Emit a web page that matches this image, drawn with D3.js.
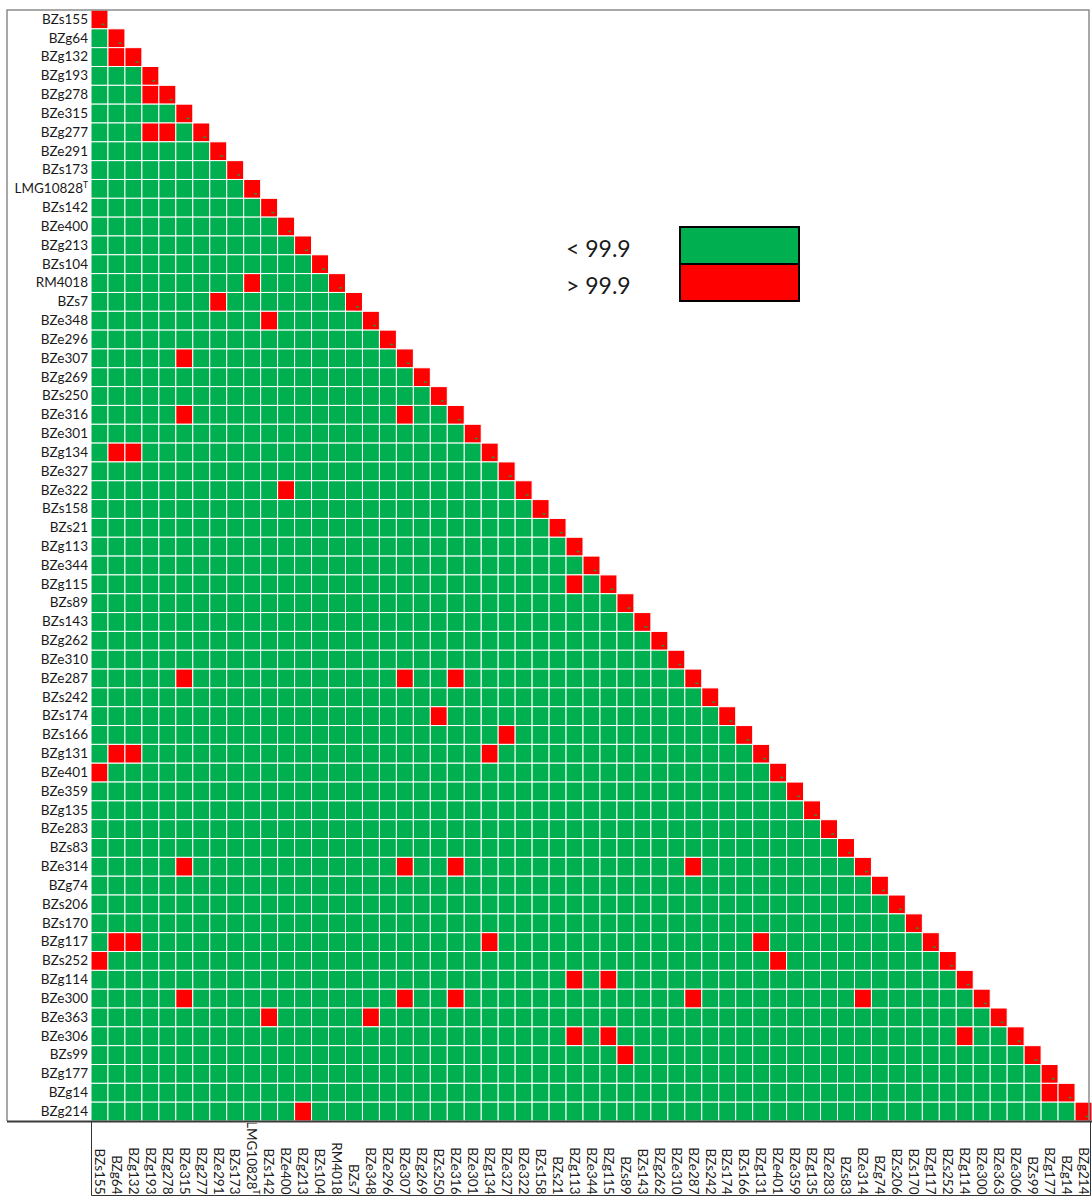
<!DOCTYPE html>
<html>
<head>
<meta charset="utf-8">
<script src="https://cdn.jsdelivr.net/npm/d3@7"></script>
<style>
  body { margin: 0; background: #fff; }
  svg { display: block; font-family: Lato, "Open Sans", sans-serif; }
</style>
</head>
<body>
<div id="chart"></div>
<script>
// strains in row / column order
const strains = [
  "BZs155", "BZg64", "BZg132", "BZg193", "BZg278", "BZe315", "BZg277", "BZe291", "BZs173", "LMG10828T",
  "BZs142", "BZe400", "BZg213", "BZs104", "RM4018", "BZs7", "BZe348", "BZe296", "BZe307", "BZg269",
  "BZs250", "BZe316", "BZe301", "BZg134", "BZe327", "BZe322", "BZs158", "BZs21", "BZg113", "BZe344",
  "BZg115", "BZs89", "BZs143", "BZg262", "BZe310", "BZe287", "BZs242", "BZs174", "BZs166", "BZg131",
  "BZe401", "BZe359", "BZg135", "BZe283", "BZs83", "BZe314", "BZg74", "BZs206", "BZs170", "BZg117",
  "BZs252", "BZg114", "BZe300", "BZe363", "BZe306", "BZs99", "BZg177", "BZg14", "BZg214"
];

// pairs above the 99.9 threshold (row strain, column strain), besides the diagonal
const highPairs = [
  ["BZg132", "BZg64"],
  ["BZg278", "BZg193"],
  ["BZg277", "BZg193"], ["BZg277", "BZg278"],
  ["RM4018", "LMG10828T"],
  ["BZs7", "BZe291"],
  ["BZe348", "BZs142"],
  ["BZe307", "BZe315"],
  ["BZe316", "BZe315"], ["BZe316", "BZe307"],
  ["BZg134", "BZg64"], ["BZg134", "BZg132"],
  ["BZe322", "BZe400"],
  ["BZg115", "BZg113"],
  ["BZe287", "BZe315"], ["BZe287", "BZe307"], ["BZe287", "BZe316"],
  ["BZs174", "BZs250"],
  ["BZs166", "BZe327"],
  ["BZg131", "BZg64"], ["BZg131", "BZg132"], ["BZg131", "BZg134"],
  ["BZe401", "BZs155"],
  ["BZe314", "BZe315"], ["BZe314", "BZe307"], ["BZe314", "BZe316"], ["BZe314", "BZe287"],
  ["BZg117", "BZg64"], ["BZg117", "BZg132"], ["BZg117", "BZg134"], ["BZg117", "BZg131"],
  ["BZs252", "BZs155"], ["BZs252", "BZe401"],
  ["BZg114", "BZg113"], ["BZg114", "BZg115"],
  ["BZe300", "BZe315"], ["BZe300", "BZe307"], ["BZe300", "BZe316"], ["BZe300", "BZe287"], ["BZe300", "BZe314"],
  ["BZe363", "BZs142"], ["BZe363", "BZe348"],
  ["BZe306", "BZg113"], ["BZe306", "BZg115"], ["BZe306", "BZg114"],
  ["BZs99", "BZs89"],
  ["BZg14", "BZg177"],
  ["BZg214", "BZg213"]
];

const legendLabels = ["< 99.9", "> 99.9"];
const legendColors = ["#00b050", "#ff0000"];

const width = 1092, height = 1196;

const svg = d3.select("#chart")
  .append("svg")
  .attr("width", width)
  .attr("height", height);

const x = d3.scaleBand().domain(strains).range([91, 1092]);
const y = d3.scaleBand().domain(strains).range([10, 1121]);

const color = d3.scaleOrdinal().domain(legendLabels).range(legendColors);

// lower triangle cells
const highSet = new Set(highPairs.map(p => p[0] + "|" + p[1]));
const cells = [];
strains.forEach((r, i) => {
  strains.slice(0, i + 1).forEach(c => {
    const high = r === c || highSet.has(r + "|" + c);
    cells.push({row: r, col: c, level: high ? "> 99.9" : "< 99.9", diag: r === c});
  });
});

svg.append("g")
  .selectAll("rect")
  .data(cells)
  .enter()
  .append("rect")
  .attr("x", d => x(d.col))
  .attr("y", d => y(d.row))
  .attr("width", x.bandwidth())
  .attr("height", y.bandwidth())
  .attr("fill", d => color(d.level))
  .attr("stroke", "#ffffff")
  .attr("stroke-width", 1);

// little green ticks left in diagonal cells
svg.append("g")
  .selectAll("rect")
  .data(cells.filter(d => d.diag))
  .enter()
  .append("rect")
  .attr("x", d => x(d.col) + x.bandwidth() * 0.62)
  .attr("y", d => y(d.row) + y.bandwidth() * 0.72)
  .attr("width", 3)
  .attr("height", 1.5)
  .attr("fill", "#3a8a3a");

// frame
svg.append("path")
  .attr("d", "M7,1121 V10 H1089 V1121")
  .attr("fill", "none")
  .attr("stroke", "#8c8c8c")
  .attr("stroke-width", 1.5);
svg.append("line")
  .attr("x1", 7).attr("x2", 1092)
  .attr("y1", 1121.5).attr("y2", 1121.5)
  .attr("stroke", "#3a3a3a")
  .attr("stroke-width", 2);
svg.append("path")
  .attr("d", "M91.5,1122 V1195.5 H1090.5 V1122")
  .attr("fill", "none")
  .attr("stroke", "#333")
  .attr("stroke-width", 1);

// label helper for the superscript T
function labelText(sel) {
  sel.each(function(d) {
    const t = d3.select(this).text("");
    if (d === "LMG10828T") {
      t.append("tspan").text("LMG10828");
      t.append("tspan").attr("font-size", "8.5px").attr("dy", "-0.6em").text("T");
    } else {
      t.text(d);
    }
  });
}

// row labels
const yAxis = svg.append("g")
  .attr("transform", "translate(91,0)")
  .call(d3.axisLeft(y).tickSize(0).tickPadding(3));
yAxis.select(".domain").remove();
yAxis.selectAll("text")
  .attr("font-family", "Lato, sans-serif")
  .attr("font-size", 13.5)
  .attr("fill", "#1a1a1a")
  .call(labelText);

// column labels
svg.append("clipPath")
  .attr("id", "xclip")
  .append("rect")
  .attr("x", 92).attr("y", 1123)
  .attr("width", 1000).attr("height", 71.5);

svg.append("g")
  .attr("clip-path", "url(#xclip)")
  .selectAll("text")
  .data(strains)
  .enter()
  .append("text")
  .attr("transform", d => `translate(${x(d) + x.bandwidth() / 2},1194.5) rotate(90)`)
  .attr("text-anchor", "end")
  .attr("dy", "0.35em")
  .attr("font-family", "Lato, sans-serif")
  .attr("font-size", 13.5)
  .attr("fill", "#1a1a1a")
  .call(labelText);

// legend
const ly = d3.scaleBand().domain(legendLabels).range([227, 301]);

svg.append("g")
  .selectAll("rect")
  .data(legendLabels)
  .enter()
  .append("rect")
  .attr("x", 680)
  .attr("y", d => ly(d))
  .attr("width", 119)
  .attr("height", ly.bandwidth())
  .attr("fill", d => color(d))
  .attr("stroke", "#000")
  .attr("stroke-width", 2);

svg.append("g")
  .selectAll("text")
  .data(legendLabels)
  .enter()
  .append("text")
  .attr("x", 566)
  .attr("y", d => ly(d) + ly.bandwidth() / 2 + 11)
  .attr("font-family", "Lato, sans-serif")
  .attr("font-size", 23)
  .attr("fill", "#1a1a1a")
  .text(d => d);
</script>
</body>
</html>
